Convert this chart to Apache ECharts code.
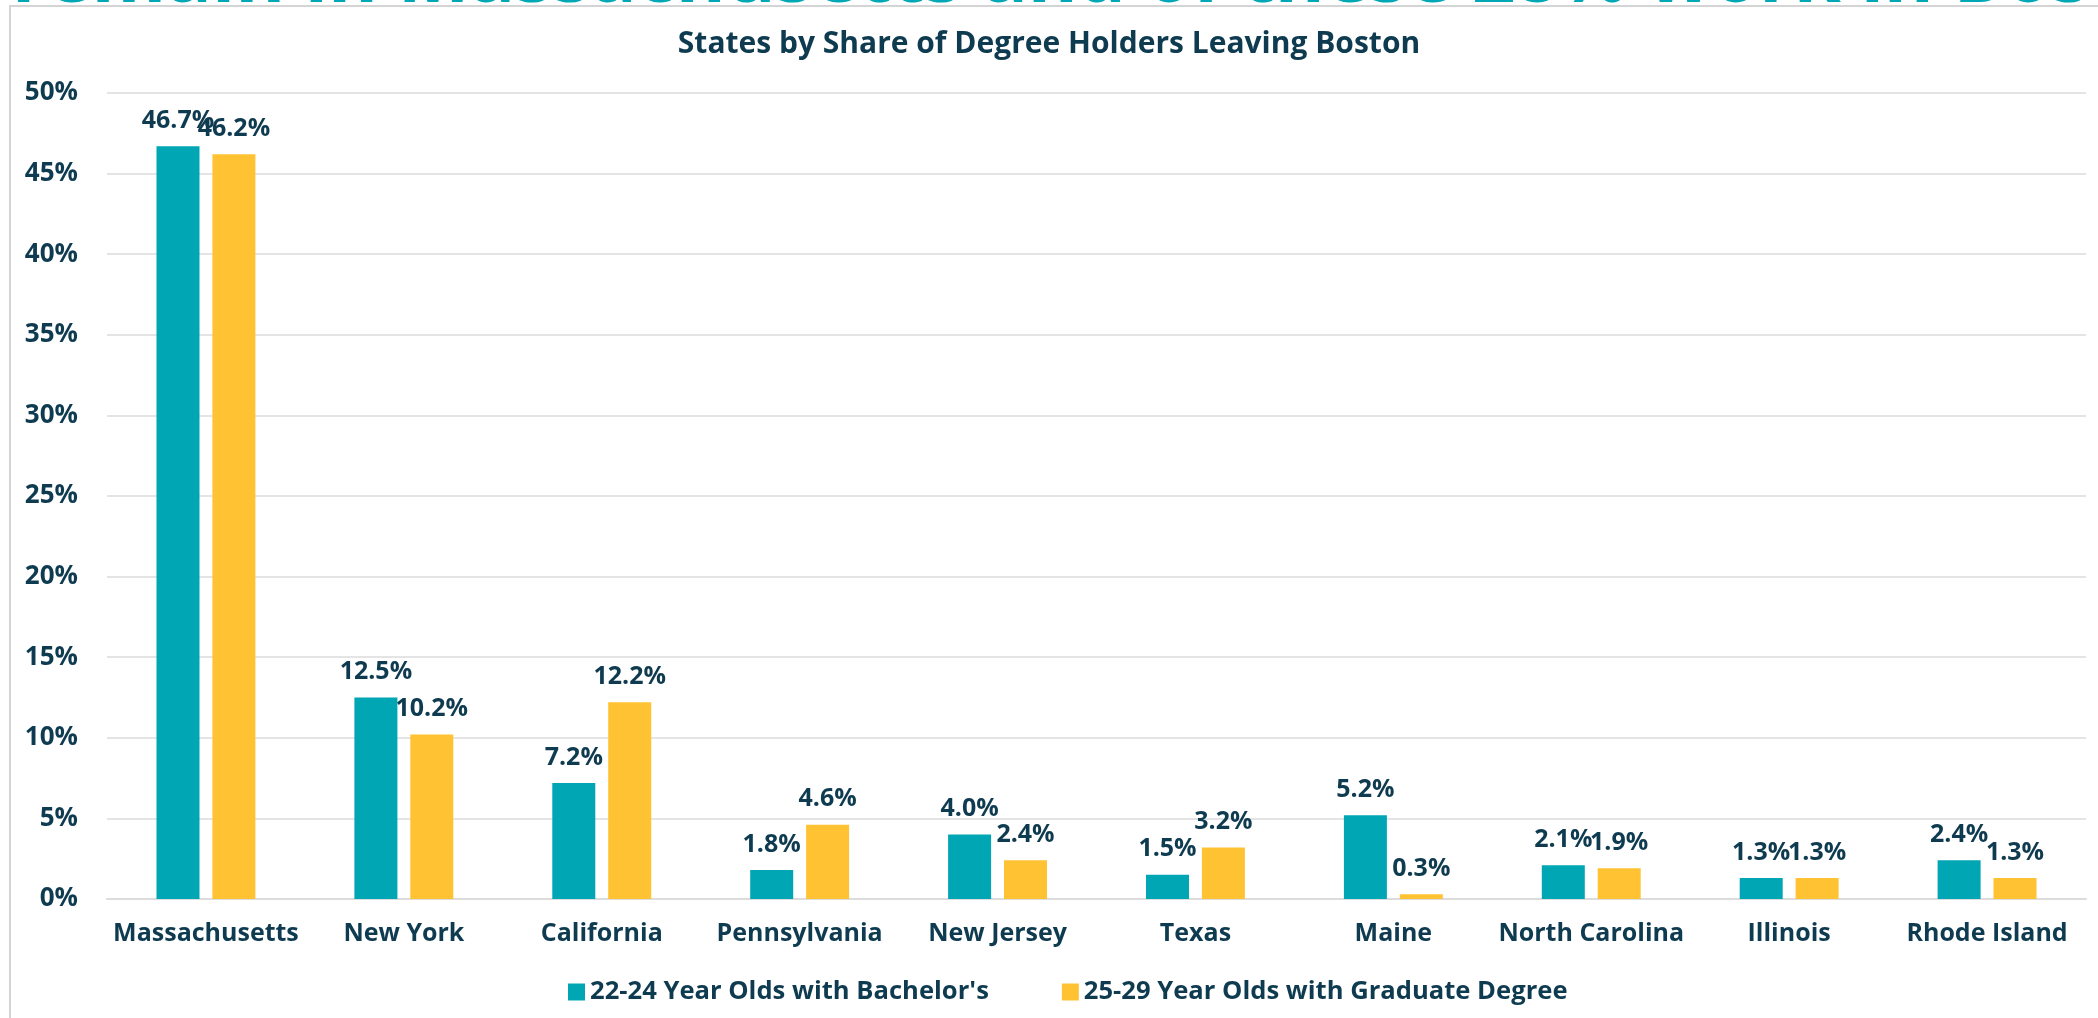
<!DOCTYPE html>
<html>
<head>
<meta charset="utf-8">
<script src="https://cdn.jsdelivr.net/npm/echarts@6/dist/echarts.min.js"></script>
<style>
  html, body { margin: 0; padding: 0; background: #fff; }
  #main { width: 2098px; height: 1018px; }
</style>
</head>
<body>
<div id="main"></div>
<script>
// values (percent)
const states = ["Massachusetts", "New York", "California", "Pennsylvania", "New Jersey",
  "Texas", "Maine", "North Carolina", "Illinois", "Rhode Island"];
const bachelors = [46.7, 12.5, 7.2, 1.8, 4.0, 1.5, 5.2, 2.1, 1.3, 2.4];
const graduate = [46.2, 10.2, 12.2, 4.6, 2.4, 3.2, 0.3, 1.9, 1.3, 1.3];
const seriesNames = ["22-24 Year Olds with Bachelor's", "25-29 Year Olds with Graduate Degree"];
const headline = "remain in Massachusetts and of these 28% work in Boston";

const navy = "#0f3b50";
const font = "Open Sans";

const chart = echarts.init(document.getElementById("main"));

const labelStyle = {
  show: true,
  position: "top",
  distance: 13,
  color: navy,
  fontFamily: font,
  fontWeight: "bold",
  fontSize: 25,
  formatter: (p) => p.value.toFixed(1) + "%",
};

chart.setOption({
  animation: false,
  textStyle: { fontFamily: font },
  title: {
    text: "States by Share of Degree Holders Leaving Boston",
    left: "center",
    top: 24,
    textStyle: { color: navy, fontFamily: font, fontWeight: "bold", fontSize: 30 },
  },
  legend: {
    top: 974,
    left: 563,
    itemWidth: 17,
    itemHeight: 17,
    itemGap: 73,
    icon: "rect",
    textStyle: { color: navy, fontFamily: font, fontWeight: "bold", fontSize: 25.6 },
    data: seriesNames,
  },
  grid: { left: 107, right: 12, top: 93, bottom: 119, containLabel: false },
  xAxis: {
    type: "category",
    data: states,
    axisTick: { show: false },
    axisLine: { lineStyle: { color: "#dcdcdc", width: 2 } },
    axisLabel: {
      margin: 22,
      color: navy,
      fontFamily: font,
      fontWeight: "bold",
      fontSize: 25,
      interval: 0,
    },
  },
  yAxis: {
    type: "value",
    min: 0,
    max: 50,
    interval: 5,
    axisLine: { show: false },
    axisTick: { show: false },
    splitLine: { lineStyle: { color: "#e4e4e4", width: 2 } },
    axisLabel: {
      margin: 29,
      color: navy,
      fontFamily: font,
      fontWeight: "bold",
      fontSize: 26,
      formatter: "{value}%",
    },
  },
  series: [
    {
      name: seriesNames[0],
      type: "bar",
      data: bachelors,
      barWidth: 43,
      barGap: "30%",
      itemStyle: { color: "#00a6b4" },
      label: labelStyle,
    },
    {
      name: seriesNames[1],
      type: "bar",
      data: graduate,
      barWidth: 43,
      itemStyle: { color: "#ffc233" },
      label: labelStyle,
    },
  ],
  graphic: [
    {
      type: "text",
      left: 12,
      top: -58,
      silent: true,
      style: {
        text: headline,
        fill: "#00a7b5",
        font: "bold 76px 'Open Sans'",
      },
    },
    {
      type: "polyline",
      silent: true,
      shape: { points: [[10, 1018], [10, 6], [2098, 6]] },
      style: { stroke: "#d4d4d4", lineWidth: 2, fill: null },
    },
  ],
});
</script>
</body>
</html>
